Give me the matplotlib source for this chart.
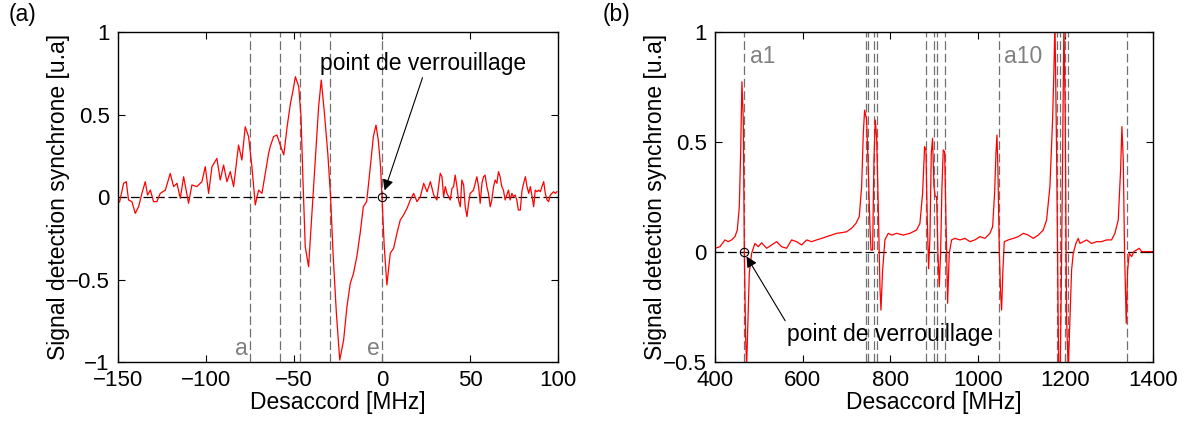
import numpy as np
import matplotlib
matplotlib.use("Agg")
import matplotlib.pyplot as plt

plt.rcParams['font.family'] = ['Liberation Sans', 'DejaVu Sans']
plt.rcParams['font.size'] = 16.5

# (a) narrow scan around the lock point
left_x = [-149.1, -146.8, -145.3, -144.0, -142.1, -140.2, -138.3, -136.4, -134.5, -133.2,
          -131.6, -129.8, -127.9, -126.0, -123.1, -120.3, -118.4, -116.5, -114.6, -112.7,
          -109.9, -108.0, -105.2, -102.3, -100.4, -98.5, -96.6, -93.8, -91.9, -90.0,
          -88.1, -86.2, -84.3, -81.5, -79.6, -77.7, -75.8, -73.9, -72.0, -70.1,
          -68.2, -66.3, -64.4, -63.5, -61.6, -59.7, -57.8, -55.8, -53.9, -52.0,
          -50.5, -49.2, -47.3, -46.0, -44.9, -43.6, -41.7, -39.8, -37.9, -36.0,
          -34.5, -32.7, -30.8, -29.3, -27.8, -25.9, -24.0, -21.8, -19.9, -18.0,
          -16.2, -14.3, -12.4, -10.6, -8.7, -6.8, -4.9, -3.4, -2.1, -0.8,
          0.0, 1.3, 2.8, 4.7, 6.6, 8.5, 10.4, 12.3, 14.2, 16.1,
          18.0, 19.9, 21.8, 23.7, 25.6, 27.5, 29.4, 31.2, 33.1, 34.1,
          35.0, 36.0, 36.9, 37.9, 38.8, 39.8, 40.7, 41.6, 42.6, 43.5,
          44.5, 45.4, 46.4, 47.3, 48.3, 49.2, 50.1, 51.1, 52.0, 53.0,
          53.9, 54.9, 55.8, 56.8, 57.7, 58.6, 59.6, 60.5, 61.5, 62.4,
          63.4, 64.3, 65.3, 66.2, 67.1, 68.1, 69.0, 70.0, 70.9, 71.9,
          72.8, 73.8, 74.7, 75.7, 76.6, 77.5, 78.6, 79.6, 80.5, 81.5,
          82.4, 83.4, 84.3, 85.3, 86.2, 87.1, 88.1, 89.0, 90.0, 90.9,
          91.9, 92.8, 93.8, 94.7, 95.6, 97.5, 98.5, 99.4]
left_y = [-0.03, 0.083, 0.093, -0.018, -0.028, -0.099, -0.059, 0.022, 0.093, 0.012,
          0.042, -0.028, -0.028, 0.022, 0.042, 0.143, 0.063, 0.083, -0.008, 0.123,
          -0.038, 0.073, 0.063, 0.093, 0.184, 0.022, 0.184, 0.234, 0.103, 0.194,
          0.093, 0.154, 0.063, 0.315, 0.224, 0.426, 0.366, 0.184, -0.048, 0.042,
          0.022, 0.143, 0.265, 0.305, 0.366, 0.376, 0.315, 0.255, 0.426, 0.568,
          0.648, 0.729, 0.669, 0.487, 0.103, -0.301, -0.422, -0.099, 0.224, 0.547,
          0.709, 0.507, 0.265, 0.022, -0.341, -0.705, -0.988, -0.867, -0.665, -0.523,
          -0.463, -0.362, -0.220, -0.059, -0.028, 0.164, 0.366, 0.436, 0.345, 0.184,
          0.0, -0.301, -0.533, -0.341, -0.311, -0.220, -0.139, -0.109, -0.069, -0.018,
          0.022, -0.028, 0.002, 0.083, 0.032, 0.093, 0.012, -0.018, 0.143, 0.123,
          0.002, 0.063, 0.022, 0.002, -0.018, 0.053, 0.063, 0.133, 0.063, -0.018,
          -0.059, 0.103, 0.073, -0.059, -0.119, -0.038, 0.022, 0.032, 0.042, 0.083,
          0.123, 0.063, -0.038, 0.083, 0.123, 0.133, 0.063, 0.022, -0.059, -0.018,
          0.063, 0.103, 0.083, 0.154, 0.123, 0.063, 0.042, -0.018, 0.012, 0.042,
          -0.018, 0.022, 0.002, 0.012, -0.018, -0.079, -0.079, 0.042, 0.083, 0.123,
          0.063, 0.022, 0.063, 0.002, -0.059, 0.042, 0.032, 0.042, 0.032, 0.063,
          0.093, 0.022, -0.018, -0.028, 0.012, 0.032, 0.022, 0.032]
left_lines = [-75, -58, -46.5, -29.5, 0]

# (b) wide scan
right_x = [400, 411.4, 422.8, 430.4, 438.0, 445.7, 451.0, 455.6, 458.6, 461.6,
           464.7, 467.0, 470.0, 472.3, 475.3, 478.4, 483.7, 491.3, 498.9, 506.5,
           518.0, 529.4, 540.8, 552.2, 563.6, 575.0, 586.5, 597.9, 609.3, 620.7,
           632.1, 643.5, 654.9, 666.4, 677.8, 689.2, 700.6, 712.0, 721.9, 729.5,
           734.9, 738.7, 741.7, 746.3, 750.1, 753.9, 756.2, 760.0, 763.0, 766.1,
           769.1, 772.9, 776.7, 779.0, 782.8, 788.1, 795.7, 803.4, 814.8, 830.0,
           845.2, 860.4, 868.0, 874.1, 878.7, 881.7, 884.8, 887.8, 890.9, 893.9,
           896.9, 900.0, 903.0, 906.1, 909.1, 912.2, 915.2, 918.3, 921.3, 924.4,
           927.4, 931.2, 935.0, 940.3, 947.9, 959.4, 970.8, 982.2, 993.6, 1005.0,
           1016.4, 1027.9, 1034.0, 1038.5, 1041.6, 1043.9, 1046.1, 1049.2, 1052.2, 1054.5,
           1057.5, 1060.6, 1069.7, 1081.1, 1092.5, 1104.0, 1115.4, 1126.8, 1138.2, 1149.6,
           1157.2, 1164.8, 1170.9, 1174.0, 1176.3, 1180.1, 1184.7, 1187.8, 1190.8, 1193.8,
           1196.8, 1199.8, 1202.9, 1206.7, 1210.5, 1214.3, 1218.1, 1224.2, 1229.5, 1233.3,
           1241.0, 1248.6, 1260.0, 1271.4, 1282.8, 1294.2, 1305.6, 1313.2, 1320.8, 1326.2,
           1329.2, 1332.3, 1335.3, 1339.1, 1342.2, 1346.0, 1351.3, 1356.6, 1362.7, 1368.8,
           1374.1, 1381.7, 1393.2, 1400]
right_y = [0.017, 0.024, 0.055, 0.047, 0.055, 0.070, 0.100, 0.206, 0.448, 0.774,
           0.600, 0.009, -0.386, -0.52, -0.309, -0.097, -0.006, 0.039, 0.024, 0.042,
           0.017, 0.032, 0.047, 0.024, 0.017, 0.055, 0.047, 0.032, 0.055, 0.047,
           0.055, 0.062, 0.070, 0.077, 0.085, 0.088, 0.092, 0.108, 0.130, 0.161,
           0.297, 0.539, 0.645, 0.600, 0.373, 0.115, 0.009, 0.009, 0.418, 0.600,
           0.524, 0.206, -0.158, -0.264, -0.082, 0.055, 0.085, 0.077, 0.085, 0.077,
           0.085, 0.100, 0.130, 0.267, 0.479, 0.464, 0.145, -0.076, 0.070, 0.448,
           0.517, 0.297, 0.252, 0.252, -0.006, -0.158, -0.006, 0.297, 0.464, 0.456,
           0.145, -0.233, -0.006, 0.055, 0.062, 0.055, 0.062, 0.047, 0.055, 0.070,
           0.062, 0.085, 0.115, 0.267, 0.448, 0.532, 0.373, 0.009, -0.188, -0.264,
           -0.082, 0.047, 0.055, 0.062, 0.070, 0.085, 0.077, 0.062, 0.077, 0.100,
           0.145, 0.297, 0.600, 0.827, 1.05, 0.448, -0.51, -0.61, -0.158, 0.448,
           1.05, 0.600, -0.31, -0.536, -0.309, -0.082, -0.006, 0.039, 0.062, 0.039,
           0.047, 0.055, 0.039, 0.047, 0.047, 0.055, 0.055, 0.085, 0.145, 0.373,
           0.570, 0.418, -0.006, -0.324, -0.082, -0.006, -0.021, 0.002, 0.009, 0.017,
           0.002, 0.002, 0.002, 0.002]
right_lines = [467, 744, 750, 762, 769, 883, 899, 907.5, 926, 1049, 1181, 1187, 1200, 1207, 1340]

gray = '#707070'
dash = (0, (7, 3))

fig = plt.figure(figsize=(11.93, 4.23), dpi=100)
ax1 = fig.add_axes([0.0989, 0.1442, 0.3688, 0.7801])
ax2 = fig.add_axes([0.5993, 0.1442, 0.3671, 0.7801])

for ax in (ax1, ax2):
    ax.tick_params(direction='in', top=True, right=True, length=5, width=0.8,
                   labelsize=16, pad=6)
    for s in ax.spines.values():
        s.set_linewidth(1.0)
    ax.set_xlabel('Desaccord [MHz]', labelpad=0)
    ax.set_ylabel('Signal detection synchrone [u.a]', labelpad=-3)

# left panel
for xv in left_lines:
    ax1.axvline(xv, color=gray, lw=0.9, ls=dash)
ax1.axhline(0, color='k', lw=0.9, ls=dash)
ax1.plot(left_x, left_y, color='red', lw=0.9)
ax1.plot([0], [0], 'o', mfc='none', mec='k', ms=6, mew=0.8)
ax1.text(left_lines[0] - 1, -0.99, 'a', color='#808080', ha='right', va='bottom')
ax1.text(left_lines[-1] - 1, -0.99, 'e', color='#808080', ha='right', va='bottom')
ax1.annotate('point de verrouillage', xy=(1.5, 0.04), xytext=(-35, 0.81),
             ha='left', va='center',
             arrowprops=dict(arrowstyle='-|>', color='k', lw=0.8,
                             mutation_scale=16, shrinkA=0, shrinkB=0,
                             relpos=(0.5, 0.0)))
ax1.set_xlim(-150, 100)
ax1.set_ylim(-1, 1)
ax1.set_xticks([-150, -100, -50, 0, 50, 100])
ax1.set_yticks([-1, -0.5, 0, 0.5, 1])
ax1.set_yticklabels(['\u22121', '\u22120.5', '0', '0.5', '1'])

# right panel
for xv in right_lines:
    ax2.axvline(xv, color=gray, lw=0.9, ls=dash)
ax2.axhline(0, color='k', lw=0.9, ls=dash)
ax2.plot(right_x, right_y, color='red', lw=0.9)
ax2.plot([467], [0], 'o', mfc='none', mec='k', ms=6, mew=0.8)
ax2.text(480, 0.89, 'a1', color='#808080', ha='left', va='center')
ax2.text(1060, 0.89, 'a10', color='#808080', ha='left', va='center')
ax2.annotate('point de verrouillage', xy=(472, -0.02), xytext=(564, -0.377),
             ha='left', va='center',
             arrowprops=dict(arrowstyle='-|>', color='k', lw=0.8,
                             mutation_scale=16, shrinkA=0, shrinkB=0,
                             relpos=(0.0, 1.0)))
ax2.set_xlim(400, 1400)
ax2.set_ylim(-0.5, 1)
ax2.set_xticks([400, 600, 800, 1000, 1200, 1400])
ax2.set_yticks([-0.5, 0, 0.5, 1])
ax2.set_yticklabels(['\u22120.5', '0', '0.5', '1'])

fig.text(0.007, 0.965, '(a)', ha='left', va='center')
fig.text(0.505, 0.965, '(b)', ha='left', va='center')

fig.savefig('out.png', dpi=100)
